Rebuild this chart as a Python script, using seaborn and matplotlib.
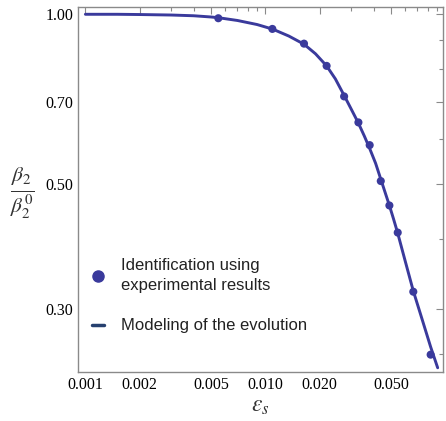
import numpy as np
import pandas as pd
import matplotlib
matplotlib.use("Agg")
import matplotlib.pyplot as plt
from matplotlib.lines import Line2D
from matplotlib.ticker import FixedLocator, NullFormatter
import seaborn as sns

# Identified points (experimental)
exp_eps = [0.00548, 0.01094, 0.0164, 0.0219, 0.0274, 0.0329, 0.0380, 0.0438, 0.0489, 0.0544, 0.0664, 0.0829]
exp_beta = [0.984, 0.942, 0.887, 0.810, 0.715, 0.643, 0.586, 0.506, 0.458, 0.410, 0.322, 0.249]

# Model curve
model_eps = [0.001, 0.0015, 0.002, 0.003, 0.004, 0.005, 0.0055, 0.007, 0.009, 0.011, 0.0135,
             0.0164, 0.019, 0.0219, 0.0245, 0.0274, 0.030, 0.0329, 0.0355, 0.038, 0.041,
             0.0438, 0.0465, 0.0489, 0.0515, 0.0544, 0.060, 0.0664, 0.074, 0.0829, 0.0907]
model_beta = [1.000, 1.000, 0.999, 0.997, 0.994, 0.989, 0.986, 0.975, 0.959, 0.941, 0.915,
              0.885, 0.851, 0.810, 0.768, 0.718, 0.679, 0.641, 0.608, 0.578, 0.544,
              0.510, 0.481, 0.458, 0.434, 0.409, 0.364, 0.323, 0.289, 0.257, 0.236]

x_major = [0.001, 0.002, 0.005, 0.010, 0.020, 0.050]
x_major_labels = ["0.001", "0.002", "0.005", "0.010", "0.020", "0.050"]
x_minor = [0.003, 0.004, 0.006, 0.007, 0.008, 0.009, 0.03, 0.04, 0.06, 0.07, 0.08, 0.09]
y_major = [0.30, 0.50, 0.70, 1.00]
y_major_labels = ["0.30", "0.50", "0.70", "1.00"]
y_minor = [0.25, 0.4, 0.6, 0.8, 0.9]

sns.set_style("white")
plt.rcParams["mathtext.fontset"] = "stix"

color = "#3a3a9c"
leg_line_color = "#26406f"

fig = plt.figure(figsize=(4.46, 4.21), dpi=100)
ax = fig.add_axes([0.1749, 0.1157, 0.9940 - 0.1749, 0.9841 - 0.1157])

df_model = pd.DataFrame({"eps": model_eps, "beta": model_beta})
df_exp = pd.DataFrame({"eps": exp_eps, "beta": exp_beta})

sns.lineplot(data=df_model, x="eps", y="beta", ax=ax, color=color, lw=2.1,
             sort=False, estimator=None)
sns.scatterplot(data=df_exp, x="eps", y="beta", ax=ax, color=color, s=34,
                edgecolor="none", zorder=3)

ax.set_xscale("log")
ax.set_yscale("log")
ax.set_xlim(0.00091, 0.0975)
ax.set_ylim(0.2317, 1.0315)

ax.xaxis.set_major_locator(FixedLocator(x_major))
ax.set_xticklabels(x_major_labels)
ax.xaxis.set_minor_locator(FixedLocator(x_minor))
ax.xaxis.set_minor_formatter(NullFormatter())
ax.yaxis.set_major_locator(FixedLocator(y_major))
ax.set_yticklabels(y_major_labels)
ax.yaxis.set_minor_locator(FixedLocator(y_minor))
ax.yaxis.set_minor_formatter(NullFormatter())

for lab in ax.get_xticklabels() + ax.get_yticklabels():
    lab.set_fontfamily("Liberation Serif")
    lab.set_fontsize(11.5)

ax.tick_params(which="both", direction="in", top=True, right=True, color="#8a8a8a",
               width=0.8, labelcolor="#000000")
ax.tick_params(which="major", length=5, pad=3.5)
ax.tick_params(which="minor", length=3)

for s in ax.spines.values():
    s.set_color("#8a8a8a")
    s.set_linewidth(1.0)

ax.set_xlabel(r"$\varepsilon_s$", fontsize=17, color="#333333", labelpad=0)
ax.set_ylabel(r"$\frac{\beta_2}{\beta_2^0}$", fontsize=22, color="#333333",
              rotation=0, ha="center", va="center")
ax.yaxis.set_label_coords(-0.152, 0.49)

handles = [
    Line2D([], [], marker="o", linestyle="none", color=color, markersize=8),
    Line2D([], [], color=leg_line_color, lw=2.5),
]
labels = ["Identification using\nexperimental results", "Modeling of the evolution"]
leg = ax.legend(handles, labels, loc="upper left", bbox_to_anchor=(0.02, 0.33),
                frameon=False, prop={"family": "Liberation Sans", "size": 12},
                labelspacing=1.55, handlelength=0.75, handletextpad=1.0,
                borderaxespad=0.0)
for t in leg.get_texts():
    t.set_color("#222222")
    t.set_linespacing(1.35)

fig.savefig("out.png", dpi=100)
